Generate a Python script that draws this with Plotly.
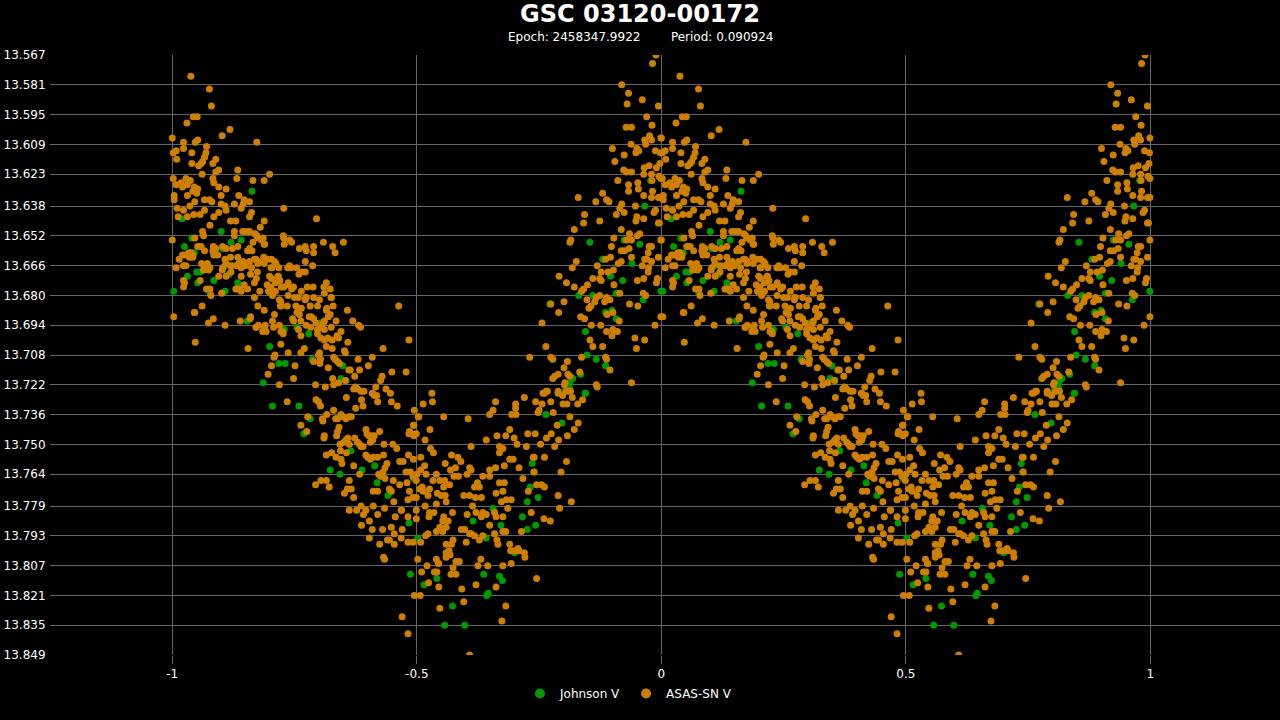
import plotly.graph_objects as go

# phased light curve of GSC 03120-00172
# each entry is (phase, V magnitude); the curve is drawn twice (phase-1 and phase)
title_text = "GSC 03120-00172"
epoch_text = "Epoch: 2458347.9922"
period_text = "Period: 0.090924"

y_tick_labels = ["13.567", "13.581", "13.595", "13.609", "13.623", "13.638", "13.652",
                 "13.666", "13.680", "13.694", "13.708", "13.722", "13.736", "13.750",
                 "13.764", "13.779", "13.793", "13.807", "13.821", "13.835", "13.849"]
x_tick_values = [-1, -0.5, 0, 0.5, 1]
x_tick_labels = ["-1", "-0.5", "0", "0.5", "1"]

johnson_points = [
    (0.163, 13.631), (0.020, 13.644), (0.100, 13.650), (0.040, 13.653), (0.025, 13.657),
    (0.141, 13.654), (0.120, 13.655), (0.050, 13.669), (0.031, 13.671), (0.064, 13.666),
    (0.052, 13.674), (0.108, 13.678), (0.085, 13.673), (0.134, 13.674), (0.153, 13.692),
    (0.255, 13.695), (0.302, 13.693), (0.199, 13.704), (0.286, 13.710), (0.349, 13.713),
    (0.218, 13.712), (0.231, 13.712), (0.186, 13.721), (0.345, 13.719), (0.355, 13.720),
    (0.410, 13.726), (0.205, 13.732), (0.259, 13.732), (0.282, 13.738), (0.269, 13.745),
    (0.365, 13.753), (0.414, 13.760), (0.323, 13.762), (0.343, 13.764), (0.388, 13.762),
    (0.419, 13.768), (0.441, 13.774), (0.764, 13.736), (0.845, 13.726), (0.813, 13.724),
    (0.797, 13.740), (0.494, 13.766), (0.484, 13.787), (0.502, 13.794), (0.487, 13.811),
    (0.515, 13.816), (0.541, 13.813), (0.573, 13.826), (0.557, 13.835), (0.598, 13.835),
    (0.643, 13.821), (0.646, 13.820), (0.637, 13.811), (0.669, 13.812), (0.675, 13.814),
    (0.700, 13.801), (0.642, 13.794), (0.672, 13.788), (0.656, 13.780), (0.615, 13.786),
    (0.716, 13.784), (0.726, 13.790), (0.743, 13.788), (0.726, 13.777), (0.748, 13.775),
    (0.732, 13.770), (0.736, 13.759), (0.739, 13.763), (0.978, 13.626), (0.966, 13.638),
    (0.924, 13.654), (0.854, 13.655), (0.956, 13.656), (0.880, 13.663), (0.940, 13.665),
    (0.896, 13.671), (0.921, 13.673), (0.999, 13.678), (0.908, 13.679), (0.963, 13.682),
    (0.831, 13.680), (0.860, 13.680), (0.772, 13.684), (0.886, 13.688), (0.899, 13.687),
    (0.908, 13.691), (0.845, 13.697), (0.848, 13.708), (0.867, 13.710), (0.886, 13.713),
    (0.835, 13.717), (0.819, 13.719), (0.813, 13.721), (0.806, 13.724), (0.803, 13.725),
    (0.844, 13.726), (0.103, 13.658), (0.108, 13.666), (0.116, 13.670), (0.126, 13.666),
    (0.134, 13.666), (0.057, 13.669), (0.077, 13.679), (0.003, 13.678), (0.240, 13.667),
    (0.229, 13.696), (0.279, 13.698), (0.045, 13.660),
]

asas_points = [
    (0.038, 13.577), (0.076, 13.583), (0.080, 13.591), (0.043, 13.596), (0.051, 13.596),
    (0.030, 13.599), (0.118, 13.602), (0.102, 13.605), (0.000, 13.606), (0.173, 13.608),
    (0.023, 13.608), (0.047, 13.608), (0.052, 13.607), (0.070, 13.610), (0.008, 13.612),
    (0.002, 13.613), (0.023, 13.611), (0.040, 13.613), (0.069, 13.613), (0.066, 13.615),
    (0.062, 13.617), (0.059, 13.618), (0.054, 13.619), (0.009, 13.616), (0.040, 13.618),
    (0.089, 13.616), (0.083, 13.618), (0.134, 13.621), (0.095, 13.621), (0.089, 13.622),
    (0.199, 13.623), (0.061, 13.623), (0.002, 13.625), (0.028, 13.625), (0.037, 13.626),
    (0.018, 13.627), (0.008, 13.628), (0.021, 13.629), (0.031, 13.628), (0.045, 13.629),
    (0.052, 13.630), (0.050, 13.632), (0.042, 13.631), (0.132, 13.625), (0.083, 13.625),
    (0.085, 13.627), (0.165, 13.626), (0.188, 13.626), (0.095, 13.629), (0.110, 13.630),
    (0.004, 13.633), (0.031, 13.633), (0.004, 13.635), (0.136, 13.633), (0.100, 13.633),
    (0.147, 13.635), (0.158, 13.636), (0.145, 13.637), (0.141, 13.639), (0.127, 13.637),
    (0.108, 13.638), (0.100, 13.637), (0.095, 13.641), (0.110, 13.640), (0.228, 13.639),
    (0.066, 13.635), (0.076, 13.635), (0.081, 13.636), (0.046, 13.636), (0.036, 13.638),
    (0.023, 13.640), (0.010, 13.639), (0.012, 13.643), (0.031, 13.643), (0.044, 13.642),
    (0.057, 13.642), (0.066, 13.640), (0.295, 13.644), (0.162, 13.641), (0.158, 13.643),
    (0.188, 13.645), (0.180, 13.648), (0.119, 13.645), (0.130, 13.645), (0.077, 13.647),
    (0.085, 13.643), (0.000, 13.654), (0.062, 13.650), (0.064, 13.652), (0.046, 13.653),
    (0.127, 13.650), (0.144, 13.650), (0.158, 13.650), (0.173, 13.652), (0.182, 13.654),
    (0.188, 13.656), (0.186, 13.653), (0.229, 13.656), (0.260, 13.658), (0.227, 13.652),
    (0.240, 13.654), (0.309, 13.655), (0.350, 13.655), (0.289, 13.660), (0.328, 13.657),
    (0.333, 13.660), (0.272, 13.664), (0.272, 13.657), (0.084, 13.657), (0.103, 13.657),
    (0.055, 13.657), (0.066, 13.659), (0.034, 13.660), (0.025, 13.661), (0.014, 13.663),
    (0.042, 13.661), (0.108, 13.663), (0.136, 13.665), (0.145, 13.664), (0.176, 13.664),
    (0.162, 13.667), (0.160, 13.670), (0.174, 13.669), (0.212, 13.665), (0.218, 13.667),
    (0.199, 13.671), (0.240, 13.666), (0.254, 13.667), (0.272, 13.669), (0.264, 13.669),
    (0.217, 13.671), (0.204, 13.667), (0.066, 13.666), (0.077, 13.667), (0.023, 13.666),
    (0.008, 13.667), (0.141, 13.667), (0.132, 13.666), (0.102, 13.668), (0.095, 13.671),
    (0.120, 13.669), (0.110, 13.671), (0.023, 13.673), (0.025, 13.674), (0.070, 13.677),
    (0.077, 13.677), (0.141, 13.678), (0.154, 13.677), (0.179, 13.678), (0.202, 13.676),
    (0.205, 13.680), (0.211, 13.678), (0.199, 13.678), (0.228, 13.676), (0.244, 13.677),
    (0.248, 13.676), (0.264, 13.678), (0.272, 13.682), (0.258, 13.681), (0.221, 13.685),
    (0.222, 13.683), (0.003, 13.690), (0.045, 13.688), (0.061, 13.685), (0.074, 13.693),
    (0.084, 13.691), (0.108, 13.694), (0.139, 13.692), (0.159, 13.691), (0.172, 13.695),
    (0.190, 13.694), (0.207, 13.695), (0.219, 13.694), (0.225, 13.697), (0.248, 13.692),
    (0.280, 13.690), (0.283, 13.695), (0.297, 13.696), (0.309, 13.693), (0.319, 13.690),
    (0.253, 13.685), (0.264, 13.686), (0.315, 13.687), (0.274, 13.681), (0.289, 13.681),
    (0.301, 13.682), (0.311, 13.679), (0.315, 13.674), (0.329, 13.685), (0.127, 13.652),
    (0.151, 13.650), (0.169, 13.651), (0.175, 13.653), (0.189, 13.656), (0.165, 13.655),
    (0.158, 13.658), (0.154, 13.659), (0.163, 13.659), (0.134, 13.657), (0.123, 13.658),
    (0.110, 13.658), (0.089, 13.658), (0.083, 13.659), (0.085, 13.661), (0.093, 13.661),
    (0.120, 13.666), (0.144, 13.666), (0.149, 13.666), (0.158, 13.664), (0.168, 13.663),
    (0.171, 13.663), (0.175, 13.665), (0.187, 13.662), (0.195, 13.663), (0.203, 13.663),
    (0.209, 13.664), (0.202, 13.667), (0.188, 13.665), (0.060, 13.665), (0.064, 13.668),
    (0.074, 13.668), (0.057, 13.673), (0.028, 13.666), (0.035, 13.662), (0.038, 13.660),
    (0.030, 13.661), (0.021, 13.661), (0.052, 13.657), (0.059, 13.657), (0.042, 13.662),
    (0.072, 13.665), (0.103, 13.667), (0.110, 13.665), (0.119, 13.662), (0.134, 13.662),
    (0.141, 13.671), (0.147, 13.675), (0.132, 13.677), (0.137, 13.677), (0.079, 13.680),
    (0.101, 13.679), (0.168, 13.674), (0.172, 13.672), (0.194, 13.675), (0.197, 13.678),
    (0.203, 13.672), (0.211, 13.674), (0.216, 13.671), (0.220, 13.673), (0.223, 13.676),
    (0.237, 13.674), (0.237, 13.675), (0.259, 13.670), (0.243, 13.667), (0.236, 13.667),
    (0.228, 13.653), (0.244, 13.655), (0.274, 13.659), (0.289, 13.657), (0.287, 13.666),
    (0.276, 13.676), (0.288, 13.676), (0.310, 13.676), (0.323, 13.677), (0.325, 13.681),
    (0.023, 13.676), (0.046, 13.688), (0.160, 13.690), (0.168, 13.681), (0.175, 13.685),
    (0.188, 13.687), (0.197, 13.678), (0.209, 13.689), (0.205, 13.692), (0.219, 13.682),
    (0.222, 13.685), (0.235, 13.685), (0.237, 13.680), (0.250, 13.681), (0.273, 13.681),
    (0.282, 13.685), (0.297, 13.685), (0.316, 13.686), (0.325, 13.681), (0.323, 13.689),
    (0.335, 13.692), (0.246, 13.691), (0.255, 13.688), (0.260, 13.689), (0.263, 13.692),
    (0.274, 13.694), (0.284, 13.690), (0.289, 13.691), (0.294, 13.693), (0.311, 13.692),
    (0.188, 13.695), (0.192, 13.697), (0.185, 13.697), (0.176, 13.694), (0.171, 13.695),
    (0.222, 13.697), (0.227, 13.698), (0.258, 13.696), (0.263, 13.699), (0.304, 13.695),
    (0.311, 13.696), (0.325, 13.695), (0.297, 13.698), (0.304, 13.700), (0.311, 13.701),
    (0.318, 13.700), (0.327, 13.701), (0.130, 13.677), (0.463, 13.685), (0.358, 13.687),
    (0.369, 13.692), (0.381, 13.694), (0.385, 13.695), (0.345, 13.697), (0.337, 13.699),
    (0.340, 13.700), (0.359, 13.702), (0.484, 13.701), (0.431, 13.705), (0.047, 13.702),
    (0.155, 13.705), (0.222, 13.703), (0.237, 13.707), (0.210, 13.708), (0.208, 13.709),
    (0.263, 13.707), (0.270, 13.705), (0.301, 13.707), (0.299, 13.708), (0.289, 13.711),
    (0.303, 13.710), (0.302, 13.712), (0.315, 13.704), (0.327, 13.705), (0.330, 13.709),
    (0.333, 13.710), (0.338, 13.711), (0.352, 13.706), (0.354, 13.707), (0.342, 13.712),
    (0.319, 13.714), (0.380, 13.710), (0.409, 13.709), (0.401, 13.713), (0.383, 13.715),
    (0.361, 13.715), (0.364, 13.715), (0.203, 13.713), (0.251, 13.713), (0.196, 13.717),
    (0.219, 13.722), (0.248, 13.719), (0.293, 13.722), (0.313, 13.723), (0.328, 13.719),
    (0.330, 13.722), (0.340, 13.721), (0.373, 13.718), (0.354, 13.720), (0.375, 13.723),
    (0.371, 13.724), (0.379, 13.724), (0.386, 13.725), (0.392, 13.725), (0.416, 13.723),
    (0.437, 13.724), (0.449, 13.716), (0.478, 13.716), (0.429, 13.718), (0.426, 13.720),
    (0.409, 13.726), (0.413, 13.727), (0.418, 13.727), (0.446, 13.726), (0.448, 13.730),
    (0.460, 13.732), (0.420, 13.730), (0.387, 13.729), (0.390, 13.732), (0.375, 13.733),
    (0.356, 13.728), (0.294, 13.729), (0.299, 13.730), (0.303, 13.732), (0.235, 13.730),
    (0.330, 13.734), (0.316, 13.736), (0.307, 13.738), (0.308, 13.739), (0.334, 13.738),
    (0.338, 13.738), (0.345, 13.736), (0.349, 13.737), (0.355, 13.738), (0.361, 13.737),
    (0.366, 13.737), (0.277, 13.737), (0.263, 13.741), (0.275, 13.744), (0.311, 13.746),
    (0.310, 13.747), (0.341, 13.742), (0.338, 13.744), (0.336, 13.746), (0.359, 13.747),
    (0.355, 13.748), (0.362, 13.750), (0.351, 13.749), (0.373, 13.747), (0.379, 13.749),
    (0.383, 13.750), (0.386, 13.751), (0.390, 13.751), (0.396, 13.743), (0.398, 13.745),
    (0.402, 13.746), (0.407, 13.746), (0.410, 13.748), (0.413, 13.746), (0.405, 13.749),
    (0.424, 13.744), (0.433, 13.750), (0.451, 13.750), (0.459, 13.752), (0.484, 13.745),
    (0.489, 13.745), (0.493, 13.741), (0.343, 13.750), (0.344, 13.753), (0.315, 13.755),
    (0.326, 13.754), (0.335, 13.756), (0.345, 13.757), (0.347, 13.759), (0.356, 13.754),
    (0.371, 13.760), (0.396, 13.755), (0.400, 13.756), (0.405, 13.757), (0.411, 13.756),
    (0.420, 13.756), (0.432, 13.755), (0.439, 13.759), (0.435, 13.761), (0.431, 13.763),
    (0.426, 13.765), (0.422, 13.764), (0.465, 13.758), (0.472, 13.758), (0.483, 13.755),
    (0.493, 13.757), (0.478, 13.763), (0.487, 13.763), (0.492, 13.765), (0.383, 13.764),
    (0.304, 13.767), (0.315, 13.767), (0.293, 13.769), (0.321, 13.770), (0.362, 13.767),
    (0.358, 13.771), (0.352, 13.773), (0.366, 13.771), (0.371, 13.775), (0.435, 13.766),
    (0.452, 13.767), (0.444, 13.771), (0.448, 13.772), (0.465, 13.769), (0.480, 13.768),
    (0.485, 13.772), (0.411, 13.772), (0.420, 13.772), (0.453, 13.777), (0.469, 13.781),
    (0.386, 13.779), (0.411, 13.779), (0.396, 13.781), (0.482, 13.776), (0.492, 13.775),
    (0.531, 13.726), (0.513, 13.731), (0.532, 13.730), (0.495, 13.734), (0.504, 13.737),
    (0.555, 13.737), (0.605, 13.738), (0.661, 13.730), (0.656, 13.734), (0.649, 13.736),
    (0.702, 13.731), (0.702, 13.733), (0.694, 13.736), (0.703, 13.736), (0.720, 13.728),
    (0.743, 13.730), (0.756, 13.731), (0.750, 13.734), (0.748, 13.735), (0.761, 13.726),
    (0.767, 13.725), (0.774, 13.730), (0.779, 13.735), (0.789, 13.726), (0.798, 13.727),
    (0.806, 13.725), (0.813, 13.725), (0.818, 13.728), (0.799, 13.731), (0.807, 13.731),
    (0.829, 13.731), (0.839, 13.729), (0.802, 13.722), (0.813, 13.737), (0.787, 13.741),
    (0.830, 13.740), (0.822, 13.743), (0.808, 13.746), (0.503, 13.737), (0.494, 13.741),
    (0.485, 13.744), (0.499, 13.745), (0.494, 13.746), (0.527, 13.743), (0.517, 13.748),
    (0.528, 13.752), (0.534, 13.754), (0.508, 13.756), (0.611, 13.751), (0.642, 13.748),
    (0.664, 13.746), (0.682, 13.746), (0.690, 13.743), (0.699, 13.747), (0.705, 13.750),
    (0.724, 13.751), (0.727, 13.745), (0.742, 13.745), (0.753, 13.750), (0.765, 13.747),
    (0.782, 13.751), (0.790, 13.748), (0.775, 13.745), (0.669, 13.751), (0.676, 13.752),
    (0.669, 13.754), (0.740, 13.756), (0.761, 13.756), (0.806, 13.758), (0.795, 13.763),
    (0.816, 13.777), (0.792, 13.780), (0.789, 13.774), (0.571, 13.755), (0.584, 13.756),
    (0.590, 13.758), (0.558, 13.759), (0.540, 13.764), (0.569, 13.762), (0.579, 13.761),
    (0.576, 13.765), (0.585, 13.765), (0.557, 13.767), (0.547, 13.767), (0.533, 13.767),
    (0.555, 13.770), (0.567, 13.769), (0.542, 13.773), (0.550, 13.774), (0.558, 13.774),
    (0.560, 13.777), (0.540, 13.778), (0.523, 13.774), (0.511, 13.770), (0.519, 13.764),
    (0.508, 13.762), (0.516, 13.760), (0.500, 13.764), (0.499, 13.767), (0.506, 13.771),
    (0.499, 13.775), (0.513, 13.772), (0.526, 13.771), (0.608, 13.761), (0.611, 13.762),
    (0.603, 13.764), (0.624, 13.768), (0.635, 13.765), (0.649, 13.765), (0.628, 13.770),
    (0.618, 13.770), (0.608, 13.774), (0.596, 13.774), (0.620, 13.775), (0.632, 13.775),
    (0.614, 13.779), (0.603, 13.783), (0.621, 13.782), (0.635, 13.782), (0.642, 13.783),
    (0.649, 13.788), (0.632, 13.784), (0.659, 13.782), (0.662, 13.784), (0.676, 13.784),
    (0.686, 13.780), (0.693, 13.776), (0.676, 13.772), (0.683, 13.776), (0.673, 13.777),
    (0.662, 13.773), (0.669, 13.768), (0.679, 13.768), (0.649, 13.762), (0.661, 13.761),
    (0.679, 13.760), (0.690, 13.757), (0.697, 13.757), (0.709, 13.761), (0.717, 13.766),
    (0.738, 13.756), (0.740, 13.763), (0.745, 13.769), (0.755, 13.769), (0.761, 13.770),
    (0.728, 13.772), (0.734, 13.782), (0.760, 13.785), (0.773, 13.786), (0.714, 13.791),
    (0.692, 13.800), (0.707, 13.799), (0.720, 13.801), (0.468, 13.781), (0.456, 13.784),
    (0.482, 13.784), (0.499, 13.781), (0.499, 13.785), (0.508, 13.796), (0.492, 13.796),
    (0.482, 13.796), (0.468, 13.794), (0.454, 13.792), (0.444, 13.795), (0.470, 13.790),
    (0.525, 13.784), (0.526, 13.782), (0.535, 13.782), (0.517, 13.779), (0.523, 13.792),
    (0.518, 13.793), (0.540, 13.791), (0.547, 13.789), (0.553, 13.791), (0.560, 13.789),
    (0.564, 13.786), (0.555, 13.784), (0.573, 13.782), (0.553, 13.786), (0.574, 13.795),
    (0.571, 13.797), (0.566, 13.800), (0.560, 13.801), (0.568, 13.802), (0.560, 13.797),
    (0.587, 13.805), (0.580, 13.805), (0.574, 13.808), (0.570, 13.811), (0.580, 13.811),
    (0.560, 13.803), (0.544, 13.806), (0.540, 13.804), (0.536, 13.810), (0.541, 13.810),
    (0.545, 13.806), (0.521, 13.807), (0.510, 13.810), (0.524, 13.815), (0.545, 13.817),
    (0.502, 13.804), (0.495, 13.821), (0.507, 13.821), (0.592, 13.818), (0.596, 13.824),
    (0.621, 13.816), (0.625, 13.807), (0.645, 13.807), (0.631, 13.804), (0.676, 13.807),
    (0.693, 13.806), (0.662, 13.817), (0.682, 13.826), (0.674, 13.833), (0.608, 13.849),
    (0.547, 13.827), (0.470, 13.831), (0.482, 13.839), (0.745, 13.813), (0.709, 13.800),
    (0.721, 13.803), (0.664, 13.795), (0.666, 13.797), (0.659, 13.792), (0.676, 13.791),
    (0.682, 13.791), (0.690, 13.797), (0.699, 13.800), (0.628, 13.795), (0.635, 13.793),
    (0.618, 13.793), (0.608, 13.792), (0.598, 13.790), (0.591, 13.790), (0.601, 13.796),
    (0.611, 13.792), (0.377, 13.781), (0.391, 13.783), (0.403, 13.786), (0.420, 13.783),
    (0.434, 13.780), (0.387, 13.788), (0.409, 13.790), (0.430, 13.790), (0.448, 13.789),
    (0.424, 13.797), (0.440, 13.795), (0.432, 13.803), (0.454, 13.797), (0.403, 13.794),
    (0.362, 13.781), (0.434, 13.804), (0.989, 13.567), (0.982, 13.571), (0.919, 13.581),
    (0.933, 13.585), (0.930, 13.590), (0.961, 13.588), (0.994, 13.591), (0.970, 13.596),
    (0.928, 13.601), (0.939, 13.601), (0.981, 13.600), (0.999, 13.606), (0.900, 13.611),
    (0.924, 13.614), (0.905, 13.617), (0.938, 13.609), (0.950, 13.611), (0.948, 13.613),
    (0.954, 13.612), (0.966, 13.607), (0.976, 13.605), (0.980, 13.607), (0.968, 13.609),
    (0.988, 13.612), (0.998, 13.613), (0.923, 13.621), (0.929, 13.622), (0.939, 13.622),
    (0.911, 13.626), (0.965, 13.620), (0.975, 13.619), (0.990, 13.620), (0.997, 13.618),
    (0.980, 13.623), (0.964, 13.623), (0.981, 13.626), (0.995, 13.624), (0.999, 13.625),
    (0.933, 13.628), (0.952, 13.627), (0.933, 13.631), (0.953, 13.630), (0.964, 13.633),
    (0.982, 13.631), (0.980, 13.634), (0.994, 13.634), (0.999, 13.634), (0.830, 13.634),
    (0.866, 13.636), (0.880, 13.632), (0.888, 13.635), (0.893, 13.636), (0.919, 13.637),
    (0.915, 13.639), (0.908, 13.642), (0.924, 13.641), (0.947, 13.638), (0.950, 13.643),
    (0.948, 13.645), (0.964, 13.644), (0.988, 13.640), (0.985, 13.641), (0.994, 13.646),
    (0.996, 13.646), (0.843, 13.642), (0.841, 13.646), (0.874, 13.645), (0.822, 13.649),
    (0.815, 13.654), (0.813, 13.655), (0.918, 13.649), (0.935, 13.651), (0.951, 13.652),
    (0.956, 13.651), (0.903, 13.653), (0.929, 13.654), (0.939, 13.654), (0.999, 13.654),
    (0.898, 13.657), (0.918, 13.659), (0.925, 13.659), (0.934, 13.658), (0.975, 13.657),
    (0.980, 13.657), (0.973, 13.660), (0.826, 13.664), (0.818, 13.667), (0.791, 13.671),
    (0.806, 13.674), (0.822, 13.676), (0.886, 13.663), (0.896, 13.662), (0.869, 13.666),
    (0.939, 13.662), (0.966, 13.663), (0.970, 13.663), (0.961, 13.666), (0.980, 13.664),
    (0.994, 13.662), (0.912, 13.665), (0.918, 13.664), (0.902, 13.668), (0.891, 13.669),
    (0.877, 13.669), (0.874, 13.672), (0.877, 13.673), (0.860, 13.672), (0.849, 13.675),
    (0.837, 13.678), (0.841, 13.677), (0.903, 13.675), (0.951, 13.673), (0.964, 13.672),
    (0.973, 13.669), (0.974, 13.667), (0.992, 13.672), (0.990, 13.674), (0.915, 13.679),
    (0.963, 13.679), (0.968, 13.680), (0.867, 13.681), (0.874, 13.680), (0.888, 13.681),
    (0.895, 13.682), (0.884, 13.683), (0.864, 13.683), (0.856, 13.685), (0.852, 13.686),
    (0.848, 13.682), (0.801, 13.683), (0.790, 13.688), (0.774, 13.684), (0.756, 13.693),
    (0.835, 13.690), (0.843, 13.691), (0.857, 13.694), (0.876, 13.694), (0.889, 13.689),
    (0.901, 13.688), (0.914, 13.692), (0.888, 13.697), (0.901, 13.696), (0.910, 13.697),
    (0.899, 13.699), (0.935, 13.684), (0.952, 13.685), (0.987, 13.694), (0.999, 13.690),
    (0.946, 13.700), (0.966, 13.701), (0.949, 13.705), (0.854, 13.701), (0.860, 13.704),
    (0.880, 13.704), (0.764, 13.704), (0.731, 13.709), (0.774, 13.709), (0.778, 13.710),
    (0.808, 13.711), (0.837, 13.709), (0.886, 13.709), (0.888, 13.710), (0.895, 13.715),
    (0.801, 13.714), (0.809, 13.717), (0.813, 13.718), (0.803, 13.721), (0.789, 13.717),
    (0.778, 13.719), (0.782, 13.718), (0.833, 13.716), (0.867, 13.722), (0.869, 13.723),
    (0.939, 13.721), (0.765, 13.725), (0.758, 13.726), (0.789, 13.725), (0.814, 13.725),
]

GRID = "#666666"
GREEN = "#009900"
ORANGE = "#cc7f00"


def folded(points):
    """Return x/y lists with every point drawn at phase-1 and at phase."""
    xs, ys = [], []
    for shift in (-1, 0):
        for phase, mag in points:
            xs.append(phase + shift)
            ys.append(mag)
    return xs, ys


fig = go.Figure()

jx, jy = folded(johnson_points)
fig.add_trace(go.Scatter(x=jx, y=jy, mode="markers", name="Johnson V", showlegend=False,
                         legendgroup="j", marker=dict(color=GREEN, size=7, line=dict(width=0))))

ax, ay = folded(asas_points)
fig.add_trace(go.Scatter(x=ax, y=ay, mode="markers", name="ASAS-SN V", showlegend=False,
                         legendgroup="a", marker=dict(color=ORANGE, size=7, line=dict(width=0))))

# legend entries with the slightly bigger swatch used in the reference
fig.add_trace(go.Scatter(x=[None], y=[None], mode="markers", name="Johnson V",
                         legendgroup="j", marker=dict(color=GREEN, size=10)))
fig.add_trace(go.Scatter(x=[None], y=[None], mode="markers", name="ASAS-SN V",
                         legendgroup="a", marker=dict(color=ORANGE, size=10)))

fig.update_layout(
    width=1280,
    height=720,
    paper_bgcolor="black",
    plot_bgcolor="black",
    font=dict(family="DejaVu Sans, Verdana, sans-serif", color="white", size=12),
    margin=dict(l=50, r=0, t=55, b=65),
    title=dict(text="<b>" + title_text + "</b>", x=0.5, xref="container",
               y=1 - 14 / 720, yref="container", yanchor="middle",
               font=dict(size=24, color="white")),
    showlegend=True,
    legend=dict(orientation="h", x=(520 - 50) / 1230, xanchor="left", y=-0.04,
                yanchor="top", font=dict(size=12, color="white"),
                bgcolor="rgba(0,0,0,0)"),
    xaxis=dict(range=[-1.25, 1.265], tickvals=x_tick_values, ticktext=x_tick_labels,
               showgrid=True, gridcolor=GRID, gridwidth=1, zeroline=False,
               ticks="outside", ticklen=8, tickcolor=GRID, showline=False),
    yaxis=dict(range=[13.849, 13.567], tickvals=[float(t) for t in y_tick_labels],
               ticktext=y_tick_labels, showgrid=True, gridcolor=GRID, gridwidth=1,
               zeroline=False, ticks="outside", ticklen=1, tickcolor="rgba(0,0,0,0)",
               showline=False),
)

# subtitle line under the title
fig.add_annotation(text=epoch_text + "\u00a0" * 8 + period_text,
                   x=(640 - 50) / 1230, y=(655 - 37) / 600, xref="paper", yref="paper",
                   showarrow=False, xanchor="center", yanchor="middle",
                   font=dict(size=12, color="white"))

# the page body has a default 8px margin; drop it so the chart fills the window
fig.write_html("out.html", config={"displayModeBar": False},
               post_script="document.body.style.margin='0';"
                           "document.body.style.background='black';")
